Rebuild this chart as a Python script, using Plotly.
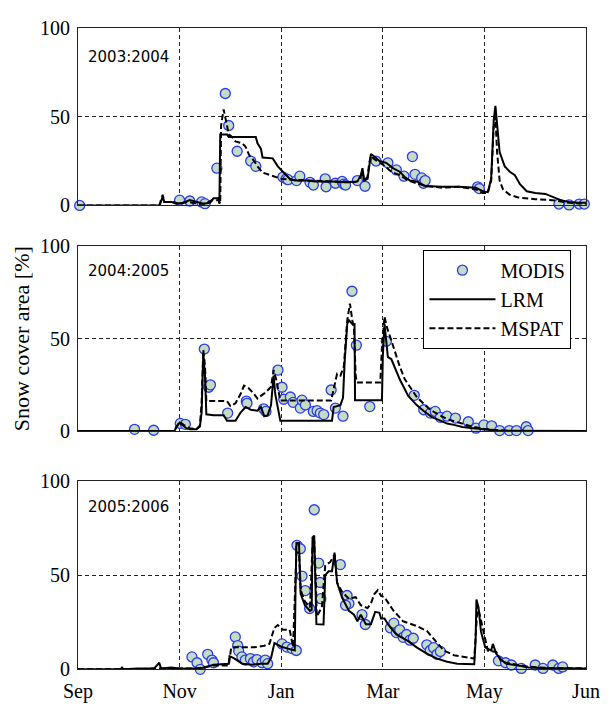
import plotly.graph_objects as go
from plotly.subplots import make_subplots

# Days counted from 1 September; month ticks every 60 days
tick_days = [0, 60, 120, 180, 240, 300]
tick_names = ["Sep", "Nov", "Jan", "Mar", "May", "Jun"]

seasons = ["2003:2004", "2004:2005", "2005:2006"]

# ---- 2003:2004 ----
modis_03_day = [1, 60, 66, 73, 75, 82, 87, 89, 94, 102, 105, 121, 123, 124, 129, 131,
                137, 139, 146, 146.5, 152, 156, 157, 158, 165, 169.5, 176, 183, 188,
                192.5, 197.5, 199, 203, 204, 205, 236, 237, 284, 290, 296, 299]
modis_03_val = [0, 3, 2.5, 2, 1, 21, 63, 45, 30.5, 25, 22, 16, 15, 14.5, 14, 16.5,
                13, 11.5, 15, 10.5, 12.5, 13.5, 12, 11.5, 14, 10.8, 25, 24, 20,
                16.5, 27.5, 17.5, 15.5, 12.5, 14, 10.5, 9.5, 0.8, 0.3, 0.8, 0.8]

lrm_03_day = [0, 48, 49, 50, 51, 55, 58, 62, 66, 70, 74, 78, 80, 83, 83.5, 84, 88, 89,
              105, 106, 108, 109, 115, 118, 122, 125, 128, 135, 140, 150, 158, 165, 167,
              168, 169, 171, 172, 173, 175, 178, 182, 186, 190, 193, 196, 200, 205, 215,
              225, 235, 239, 242, 244, 245.5, 246.5, 247.5, 249, 252, 255, 258, 261, 265,
              270, 276, 280, 285, 290, 295, 300]
lrm_03_val = [0, 0, 2, 5, 2, 2, 1, 1.5, 3, 2, 1, 1.5, 4, 4, 1, 40, 40, 38.5,
              38.5, 35, 32, 27, 26.5, 22, 18, 15, 14, 14, 13.5, 13.5, 13, 13.5, 17,
              21, 14, 15, 22, 29, 27.5, 25, 24, 21, 19, 16, 14, 13.5, 11, 10.5,
              10.5, 10, 8, 7.5, 15, 48, 56, 45, 30, 22, 19, 17, 12, 8,
              7, 6.5, 5, 3, 2, 1.5, 1.5]

mspat_03_day = [0, 48, 49, 50, 51, 56, 60, 65, 70, 75, 79, 83, 84, 84.5, 86, 87, 88, 89,
                91, 93, 97, 99, 101, 104, 106, 109, 112, 116, 120, 125, 135, 145, 155, 163,
                166, 168, 169, 171, 172, 173, 175, 180, 185, 190, 195, 200, 205, 215, 225,
                235, 239, 242, 244, 245.5, 246.5, 247.5, 249, 251, 255, 260, 270, 280, 290, 300]
mspat_03_val = [0, 0, 3, 6, 2, 2, 1, 2, 1, 1, 3, 3, 1, 45, 54, 50, 45, 40,
                38.5, 36, 35, 33, 28.5, 25, 22, 18.5, 17.5, 16, 15, 14.5, 14, 13.5, 13, 13,
                14, 19, 14, 16, 24, 28, 26, 23, 19, 17, 14, 12.5, 11, 10, 10.5,
                9, 7, 7, 14, 44, 50, 30, 14, 9, 6, 4.5, 3.5, 3, 1.5, 1]

# ---- 2004:2005 ----
modis_04_day = [33.4, 44.7, 60.4, 63.4, 74.6, 77.2, 78.2, 88.4, 99.4, 99.8, 109.6, 111,
                118.1, 120.5, 121.5, 125.4, 127, 131.3, 132.3, 134.3, 139, 141.2, 143.1,
                145.1, 149.5, 152, 156.5, 161.8, 164.4, 172.3, 182.1, 198.6, 204.2, 208.1,
                211, 214, 217.9, 222.9, 230.5, 235, 239.7, 244.3, 249, 254.7, 258.9,
                264.7, 265.8]
modis_04_val = [0.9, 0.4, 4.1, 3.6, 44.4, 23.7, 25, 9.7, 16.2, 15, 12, 10.6,
                33, 23.7, 17.2, 18.4, 15.5, 12.4, 16.7, 14.1, 10.6, 11, 9.7,
                8.9, 22.2, 12.4, 8, 75.7, 46.5, 13.2, 48.6, 19.3, 11.5, 9.7,
                10.6, 7.4, 8, 7, 5, 1.5, 3.3, 2.8, 0.2, 0.2, 0.2,
                2.3, 0.2]

lrm_04_day = [0, 57, 58, 60, 62, 64, 66, 70, 72, 73, 74, 75, 75.8, 80, 86, 88, 93, 96,
              99, 102, 106, 108, 110, 112, 114, 115.5, 116.5, 118, 119.5, 150, 151, 155,
              156.5, 157.5, 159, 160, 162, 163.3, 163.6, 179.5, 180, 181, 182, 183, 185,
              190, 195, 200, 204, 209, 213, 218, 222, 227, 232, 241, 248, 300]
lrm_04_val = [0, 0, 2, 4.5, 3, 1.5, 1, 1, 2.5, 10, 42, 30, 9, 8.5, 8.5, 5.5, 5.5, 10,
              13, 11.5, 11, 13, 8, 8.5, 14, 30, 20, 12, 5.5, 5.5, 13, 14,
              18, 38, 58, 60, 58, 58, 16.7, 16.7, 40, 58, 48, 40, 39,
              28, 19, 14, 11, 7.5, 6, 4, 3.3, 2.2, 1.6, 0.7, 0.2, 0]

mspat_04_day = [0, 57, 58, 60, 63, 66, 70, 72, 73, 74, 75, 75.8, 88, 90, 93, 96, 98, 101,
                104, 106, 108, 111, 114, 115.5, 117, 119.5, 149.5, 151, 153, 155, 157, 159,
                160.6, 162, 163, 164, 164.6, 178.5, 179.5, 181, 182.5, 184, 186, 190, 193,
                197, 200, 204, 208, 213, 218, 222, 227, 232, 241, 250, 255, 300]
mspat_04_val = [0, 0, 2, 5, 3, 1.5, 1, 3, 15, 44, 35, 16.2, 16.2, 13.5, 15, 20, 24.6, 23,
                20, 17.5, 19, 21, 24, 33, 28, 16.5, 16.5, 22, 31, 30, 35, 60,
                69, 60, 55, 30, 26.3, 26.3, 45, 62, 56, 52, 46, 35, 28,
                22.8, 18.5, 14.9, 11.5, 8.8, 6.5, 5.3, 3.8, 2.6, 0.9, 0.3, 0, 0]

# ---- 2005:2006 ----
modis_05_day = [67.3, 70.3, 72.2, 76.6, 79.1, 80, 92.9, 94.3, 94.9, 96.8, 98.8, 101.8,
                103.7, 105.7, 108.7, 110.6, 112, 120.5, 123.4, 126.4, 128.9, 129.3, 131.3,
                132.3, 134.2, 136.8, 139.5, 142.1, 143, 143.4, 154.9, 158.9, 160, 158,
                167.7, 169.7, 184.5, 186.5, 188, 190, 192, 194, 196, 198, 206, 208, 210,
                212, 214, 248.3, 252.5, 256, 261.8, 270, 274.6, 280.4, 283.9, 286.2]
modis_05_val = [6.6, 3.5, 0, 8, 4.9, 3.5, 17.2, 12.6, 9.7, 6.6, 4.9, 5.7,
                4, 5.2, 3.5, 4.9, 3, 13.5, 11.8, 11, 10, 65.8, 64,
                49.5, 41.8, 32.3, 84.7, 56.4, 46.1, 37.5, 55.6, 39.2, 34.9, 34,
                29, 23.8, 22, 24.5, 19.5, 21, 17, 18.5, 15.5, 16.5, 13, 10, 11.5,
                8, 9.5, 4.5, 3.5, 2.3, 0.5, 2.3, 0.5, 2.3, 0.5, 1.3]

lrm_05_day = [0, 25, 26, 27, 35, 45, 48, 49, 55, 60, 70, 75, 80, 85, 89, 89.5, 92, 97,
              103, 108, 112, 114, 116, 118, 120, 124, 128, 128.5, 129, 130.5, 131.5, 134,
              137, 138, 138.5, 139.5, 140.3, 140.8, 145, 146, 148, 150, 151.5, 152.5, 153,
              156, 160, 163, 165, 167, 170, 173, 175.5, 178, 179, 181, 183, 188, 195, 200,
              206, 212, 218, 224, 234, 234.8, 235.3, 236.5, 238, 240.5, 244, 245, 247, 250,
              253, 260, 266, 275, 290, 300]
lrm_05_val = [0, 0, 1, 0, 0.5, 0.5, 3.5, 0.5, 1, 0.5, 0.5, 1, 2.5, 3, 3, 7, 6, 3,
              2.5, 3, 3, 6, 14, 13, 12, 11, 10, 45, 67, 67, 40, 34,
              31, 31.5, 70, 71, 45, 24, 23.8, 50, 52, 52, 62, 50, 46,
              38, 31, 29, 25.5, 29, 24, 24, 30.5, 30, 27, 27, 24, 18.5, 15, 11.7,
              8.3, 5.7, 4, 3, 2.7, 15, 37, 33, 20, 11.7, 10, 13.5, 8.3, 5,
              3, 2, 1, 0.7, 0.5, 0.5]

mspat_05_day = [0, 35, 45, 55, 70, 80, 89, 90.5, 104, 110, 113, 116, 118, 121, 125, 127,
                128.5, 129, 130.5, 131.5, 134, 137, 138.5, 139.5, 140.5, 141, 144, 146, 149,
                151.5, 153, 156, 160, 164, 167, 171, 173, 175, 177, 179, 181, 186, 192, 200,
                206, 211, 216, 222, 228, 234, 235, 236, 237.5, 239, 242, 247, 250, 256, 265,
                275, 300]
mspat_05_val = [0, 0, 0.5, 0.5, 0.5, 2, 2, 11.7, 11.7, 12.5, 13.5, 22, 23.5, 21, 21, 12,
                45, 62, 62, 42, 36, 33, 66, 68, 45, 28, 33, 55, 57,
                61, 46, 41, 37.5, 38.3, 34, 32.5, 35, 40, 42, 39, 38.3, 31.5, 25.5, 23,
                20.4, 15, 10, 7.5, 6.6, 5.7, 20, 34, 28, 22, 10, 9.2, 4, 3, 1.5,
                0.8, 0.5]

modis_days = [modis_03_day, modis_04_day, modis_05_day]
modis_vals = [modis_03_val, modis_04_val, modis_05_val]
lrm_days = [lrm_03_day, lrm_04_day, lrm_05_day]
lrm_vals = [lrm_03_val, lrm_04_val, lrm_05_val]
mspat_days = [mspat_03_day, mspat_04_day, mspat_05_day]
mspat_vals = [mspat_03_val, mspat_04_val, mspat_05_val]

# vertical position of the season label inside each panel (data units)
label_y = [83.5, 86.5, 86]

SERIF = "Liberation Serif, Times New Roman, serif"
MARKER_FILL = "#c5dcc4"
MARKER_EDGE = "#2a3ce8"

fig = make_subplots(rows=3, cols=1)

for i in range(3):
    row = i + 1
    first = (i == 0)
    fig.add_trace(go.Scatter(
        x=modis_days[i], y=modis_vals[i], mode="markers", name="MODIS",
        marker=dict(symbol="circle", size=10, color=MARKER_FILL,
                    line=dict(color=MARKER_EDGE, width=1.3)),
        cliponaxis=False, showlegend=first), row=row, col=1)
    fig.add_trace(go.Scatter(
        x=lrm_days[i], y=lrm_vals[i], mode="lines", name="LRM",
        line=dict(color="black", width=2),
        showlegend=first), row=row, col=1)
    fig.add_trace(go.Scatter(
        x=mspat_days[i], y=mspat_vals[i], mode="lines", name="MSPAT",
        line=dict(color="black", width=2, dash="6px,3px"),
        showlegend=first), row=row, col=1)
    fig.add_annotation(x=5, y=label_y[i], xref=f"x{'' if row == 1 else row}",
                       yref=f"y{'' if row == 1 else row}", text=seasons[i],
                       showarrow=False, xanchor="left", yanchor="middle",
                       font=dict(family="DejaVu Sans", size=15, color="black"))

# panel placement (paper fractions)
domains = [[0.7157, 0.9755], [0.386, 0.6558], [0.0375, 0.313]]
grid = dict(showgrid=True, gridcolor="#222", gridwidth=1, griddash="4px,3px")
for i in range(3):
    row = i + 1
    fig.update_yaxes(row=row, col=1, domain=domains[i], range=[0, 100],
                     tickvals=[0, 50, 100], ticks="", showline=True, mirror=True,
                     linecolor="#222", linewidth=1, zeroline=False,
                     ticklabelstandoff=3,
                     tickfont=dict(family=SERIF, size=20, color="black"), **grid)
    fig.update_xaxes(row=row, col=1, range=[0, 300], tickvals=tick_days,
                     ticktext=tick_names if row == 3 else [""] * 6,
                     showticklabels=(row == 3), ticks="", showline=True, mirror=True,
                     linecolor="#222", linewidth=1, zeroline=False,
                     ticklabelstandoff=4,
                     tickfont=dict(family=SERIF, size=20, color="black"), **grid)

fig.update_yaxes(row=2, col=1, title=dict(text="Snow cover area [%]", standoff=4,
                 font=dict(family=SERIF, size=22, color="black")))

fig.update_layout(
    width=614, height=706,
    margin=dict(l=78, r=28, t=0, b=0),
    plot_bgcolor="white", paper_bgcolor="white",
    legend=dict(x=0.68, y=0.651, xanchor="left", yanchor="top",
                bgcolor="white", bordercolor="black", borderwidth=1,
                font=dict(family=SERIF, size=20, color="black"),
                itemwidth=66, tracegroupgap=0,
                entrywidth=150, entrywidthmode="pixels"),
)

fig.write_html("out.html")
